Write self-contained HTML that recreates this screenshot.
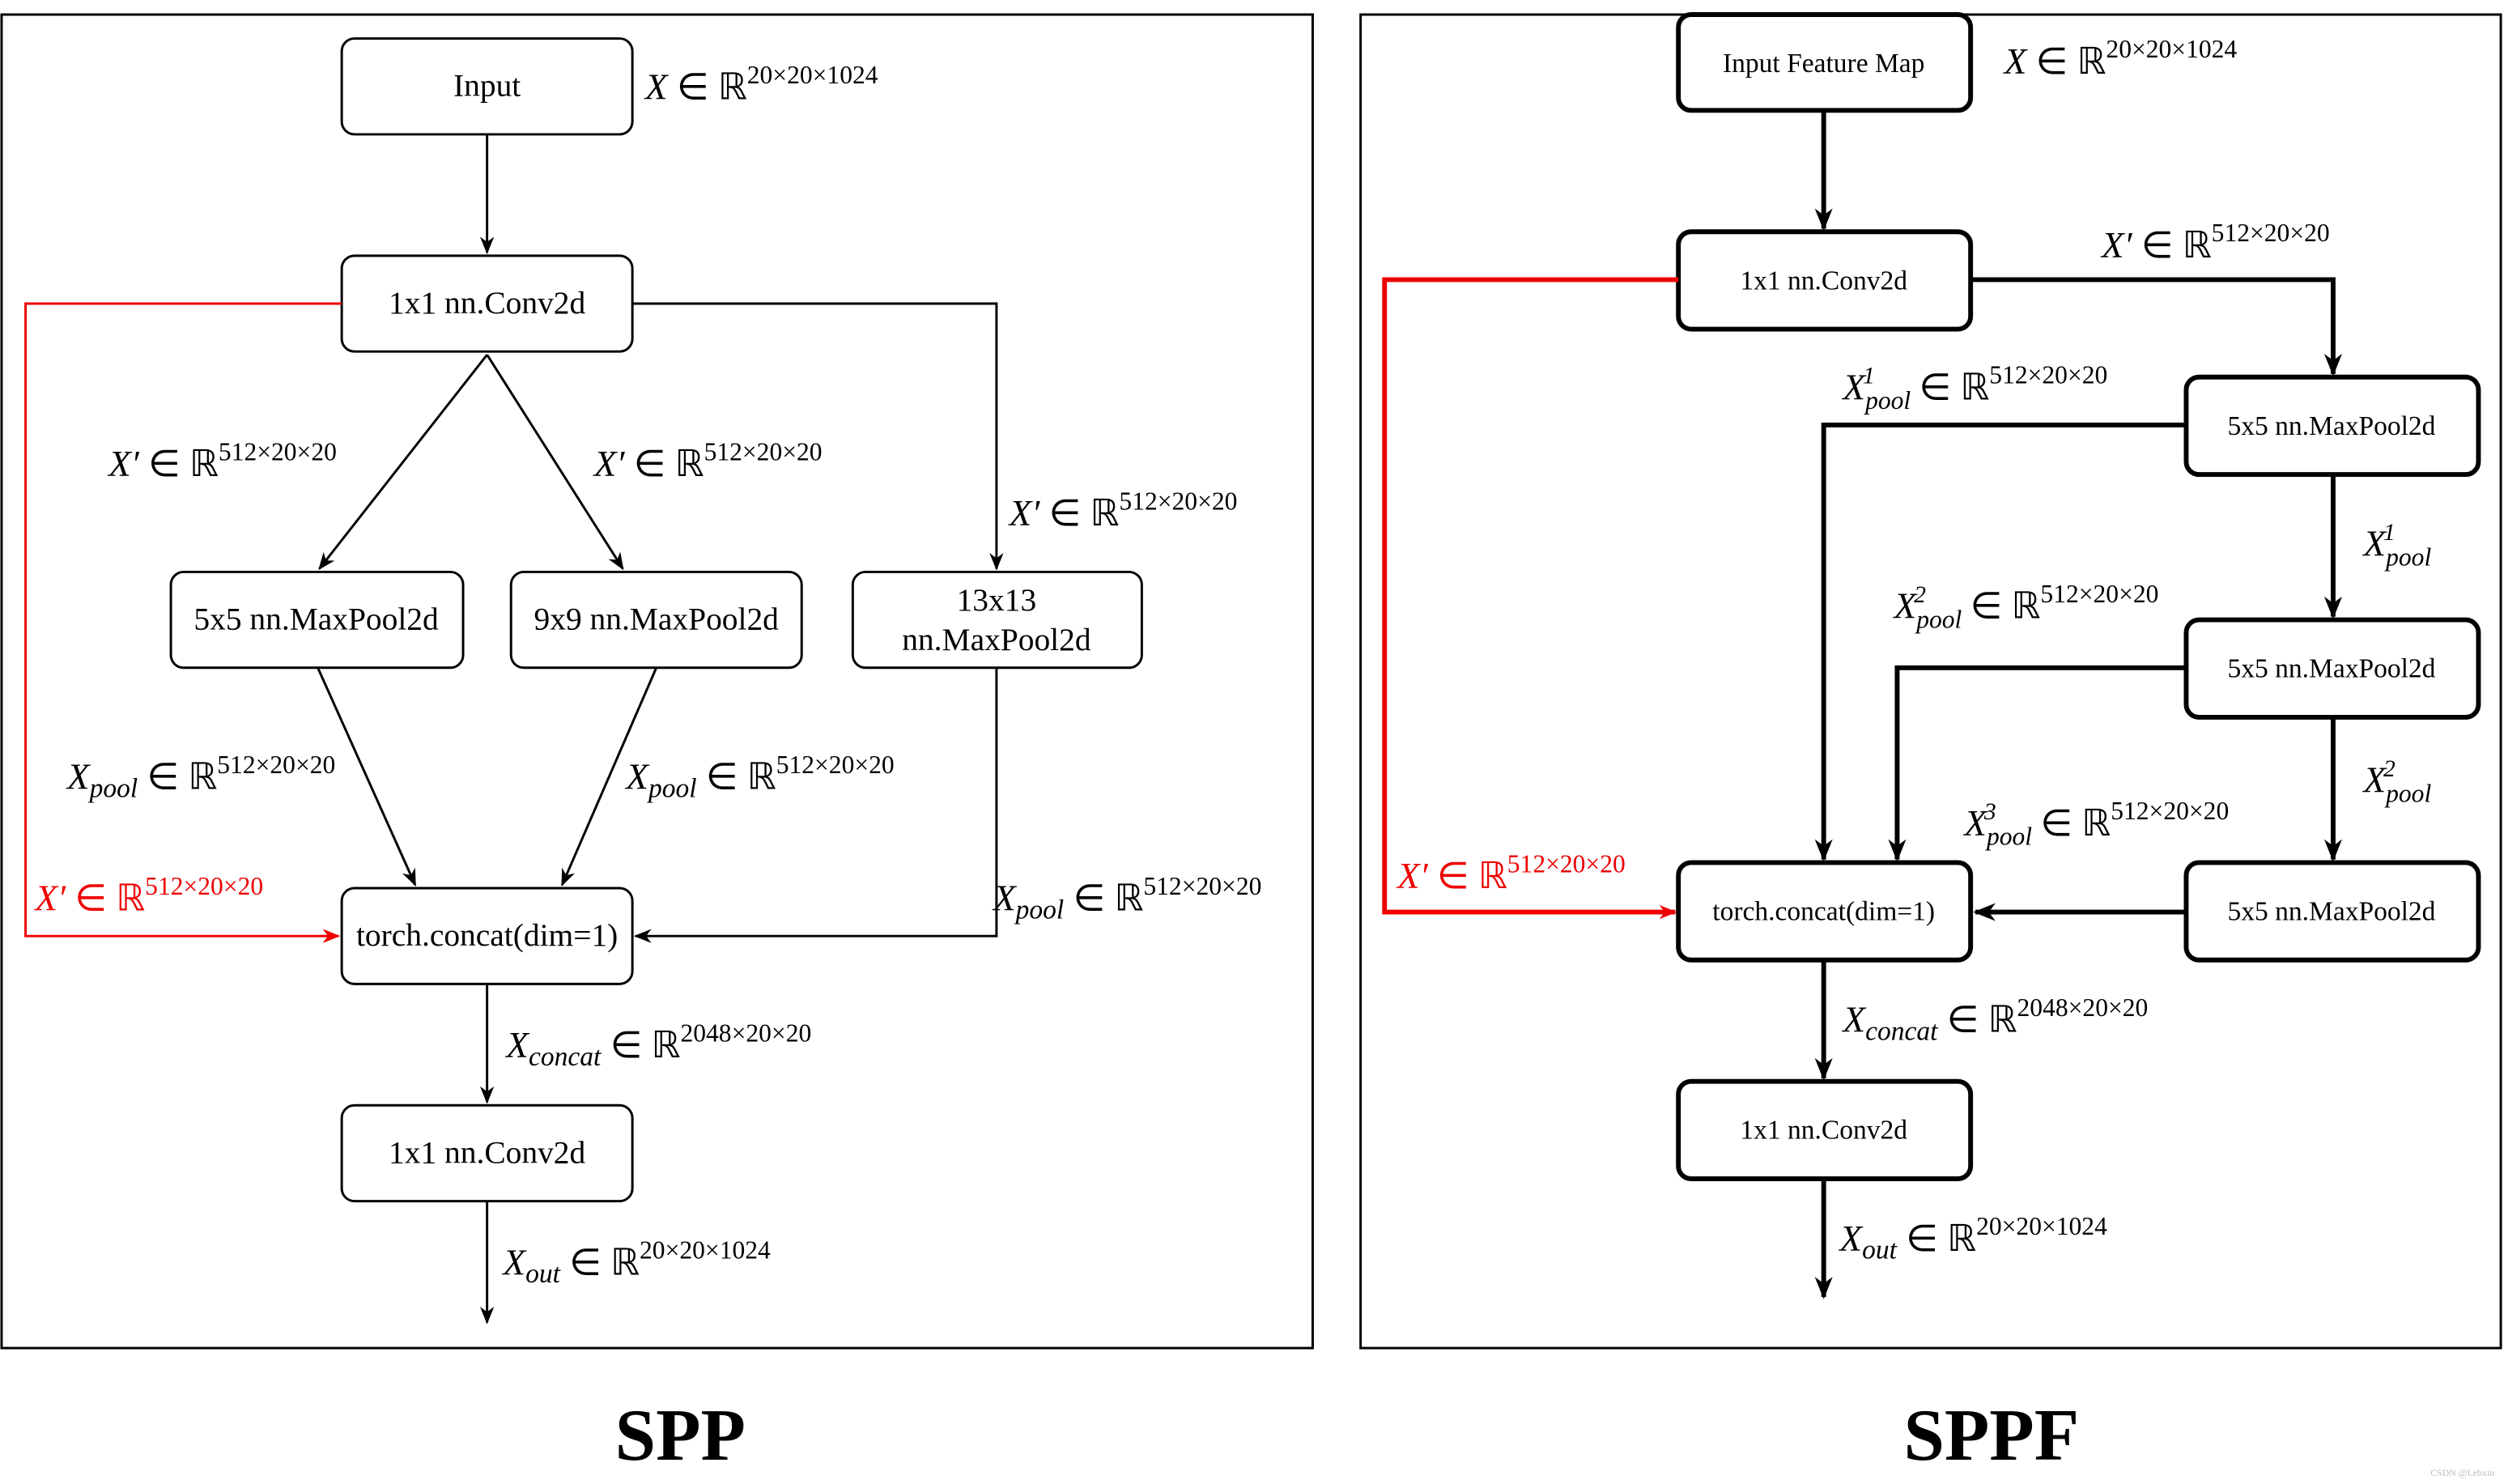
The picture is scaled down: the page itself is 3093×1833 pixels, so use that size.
<!DOCTYPE html>
<html><head><meta charset="utf-8"><style>
html,body{margin:0;padding:0;background:#fff;}
svg{display:block}
text{font-family:"Liberation Serif",serif;}
.b{font-size:20px;text-anchor:middle;}
.r{font-size:17px;text-anchor:middle;}
.m{font-size:23px;}
.s{font-size:16px;}
</style></head><body>
<svg width="3093" height="1833" viewBox="0 0 1568 929" xmlns="http://www.w3.org/2000/svg">
<defs>
<marker id="a" viewBox="0 0 10 10" refX="9" refY="5" markerWidth="11" markerHeight="11" orient="auto" markerUnits="userSpaceOnUse"><path d="M0,1 L10,5 L0,9 L3,5z" fill="#000"/></marker>
<marker id="ar" viewBox="0 0 10 10" refX="9" refY="5" markerWidth="11" markerHeight="11" orient="auto" markerUnits="userSpaceOnUse"><path d="M0,1 L10,5 L0,9 L3,5z" fill="#e00"/></marker>
<marker id="a2" viewBox="0 0 10 10" refX="9" refY="5" markerWidth="14" markerHeight="14" orient="auto" markerUnits="userSpaceOnUse"><path d="M0,1 L10,5 L0,9 L3,5z" fill="#000"/></marker>
</defs>
<rect x="1" y="9" width="821" height="835" fill="none" stroke="#000" stroke-width="1.5"/>
<rect x="852" y="9" width="714" height="835" fill="none" stroke="#000" stroke-width="1.5"/>
<text x="426" y="914" font-size="46" font-weight="bold" text-anchor="middle">SPP</text>
<text x="1247" y="914" font-size="46" font-weight="bold" text-anchor="middle">SPPF</text>

<g fill="#fff" stroke="#000" stroke-width="1.5">
<rect x="214" y="24" width="182" height="60" rx="8"/>
<rect x="214" y="160" width="182" height="60" rx="8"/>
<rect x="107" y="358" width="183" height="60" rx="8"/>
<rect x="320" y="358" width="182" height="60" rx="8"/>
<rect x="534" y="358" width="181" height="60" rx="8"/>
<rect x="214" y="556" width="182" height="60" rx="8"/>
<rect x="214" y="692" width="182" height="60" rx="8"/>
</g>
<text class="b" x="305" y="60">Input</text>
<text class="b" x="305" y="196">1x1 nn.Conv2d</text>
<text class="b" x="198" y="394">5x5 nn.MaxPool2d</text>
<text class="b" x="411" y="394">9x9 nn.MaxPool2d</text>
<text class="b" x="624" y="382">13x13</text>
<text class="b" x="624" y="407">nn.MaxPool2d</text>
<text class="b" x="305" y="592">torch.concat(dim=1)</text>
<text class="b" x="305" y="728">1x1 nn.Conv2d</text>
<g stroke="#000" stroke-width="1.5" fill="none" marker-end="url(#a)">
<line x1="305" y1="84" x2="305" y2="158"/>
<line x1="305" y1="222" x2="200" y2="356"/>
<line x1="305" y1="222" x2="390" y2="356"/>
<polyline points="396,190 624,190 624,356"/>
<line x1="199" y1="418" x2="260" y2="554"/>
<line x1="411" y1="418" x2="352" y2="554"/>
<polyline points="624,418 624,586 398,586"/>
<line x1="305" y1="616" x2="305" y2="690"/>
<line x1="305" y1="752" x2="305" y2="828"/>
</g>
<polyline points="214,190 16,190 16,586 212,586" fill="none" stroke="#e00" stroke-width="1.5" marker-end="url(#ar)"/>
<g class="m">
<text x="404" y="62"><tspan font-style="italic">X</tspan> ∈ ℝ<tspan class="s" dy="-10">20×20×1024</tspan></text>
<text x="68" y="298"><tspan font-style="italic">X′</tspan> ∈ ℝ<tspan class="s" dy="-10">512×20×20</tspan></text>
<text x="372" y="298"><tspan font-style="italic">X′</tspan> ∈ ℝ<tspan class="s" dy="-10">512×20×20</tspan></text>
<text x="632" y="329"><tspan font-style="italic">X′</tspan> ∈ ℝ<tspan class="s" dy="-10">512×20×20</tspan></text>
<text x="42" y="494"><tspan font-style="italic">X<tspan font-size="17" dy="5">pool</tspan></tspan><tspan dy="-5"> ∈ ℝ</tspan><tspan class="s" dy="-10">512×20×20</tspan></text>
<text x="392" y="494"><tspan font-style="italic">X<tspan font-size="17" dy="5">pool</tspan></tspan><tspan dy="-5"> ∈ ℝ</tspan><tspan class="s" dy="-10">512×20×20</tspan></text>
<text x="622" y="570"><tspan font-style="italic">X<tspan font-size="17" dy="5">pool</tspan></tspan><tspan dy="-5"> ∈ ℝ</tspan><tspan class="s" dy="-10">512×20×20</tspan></text>
<text x="22" y="570" fill="#e00"><tspan font-style="italic">X′</tspan> ∈ ℝ<tspan class="s" dy="-10">512×20×20</tspan></text>
<text x="317" y="662"><tspan font-style="italic">X<tspan font-size="17" dy="5">concat</tspan></tspan><tspan dy="-5"> ∈ ℝ</tspan><tspan class="s" dy="-10">2048×20×20</tspan></text>
<text x="315" y="798"><tspan font-style="italic">X<tspan font-size="17" dy="5">out</tspan></tspan><tspan dy="-5"> ∈ ℝ</tspan><tspan class="s" dy="-10">20×20×1024</tspan></text>
</g>

<g fill="#fff" stroke="#000" stroke-width="3">
<rect x="1051" y="9" width="183" height="60" rx="8"/>
<rect x="1051" y="145" width="183" height="61" rx="8"/>
<rect x="1369" y="236" width="183" height="61" rx="8"/>
<rect x="1369" y="388" width="183" height="61" rx="8"/>
<rect x="1369" y="540" width="183" height="61" rx="8"/>
<rect x="1051" y="540" width="183" height="61" rx="8"/>
<rect x="1051" y="677" width="183" height="61" rx="8"/>
</g>
<text class="r" x="1142" y="45">Input Feature Map</text>
<text class="r" x="1142" y="181">1x1 nn.Conv2d</text>
<text class="r" x="1460" y="272">5x5 nn.MaxPool2d</text>
<text class="r" x="1460" y="424">5x5 nn.MaxPool2d</text>
<text class="r" x="1460" y="576">5x5 nn.MaxPool2d</text>
<text class="r" x="1142" y="576">torch.concat(dim=1)</text>
<text class="r" x="1142" y="713">1x1 nn.Conv2d</text>
<g stroke="#000" stroke-width="3" fill="none" marker-end="url(#a2)">
<line x1="1142" y1="69" x2="1142" y2="143"/>
<polyline points="1234,175 1461,175 1461,234"/>
<line x1="1461" y1="297" x2="1461" y2="386"/>
<line x1="1461" y1="449" x2="1461" y2="538"/>
<line x1="1369" y1="571" x2="1237" y2="571"/>
<polyline points="1369,266 1142,266 1142,538"/>
<polyline points="1369,418 1188,418 1188,538"/>
<line x1="1142" y1="601" x2="1142" y2="675"/>
<line x1="1142" y1="738" x2="1142" y2="812"/>
</g>
<polyline points="1051,175 867,175 867,571 1049,571" fill="none" stroke="#e00" stroke-width="3" marker-end="url(#ar)"/>
<g class="m">
<text x="1255" y="46"><tspan font-style="italic">X</tspan> ∈ ℝ<tspan class="s" dy="-10">20×20×1024</tspan></text>
<text x="1316" y="161"><tspan font-style="italic">X′</tspan> ∈ ℝ<tspan class="s" dy="-10">512×20×20</tspan></text>
<text x="1154" y="250"><tspan font-style="italic">X<tspan font-size="16" dy="6">pool</tspan><tspan font-size="15" dx="-30" dy="-16">1</tspan></tspan><tspan dx="22" dy="10"> ∈ ℝ</tspan><tspan class="s" dy="-10">512×20×20</tspan></text>
<text x="1480" y="348" font-style="italic">X<tspan font-size="16" dy="6">pool</tspan><tspan font-size="15" dx="-30" dy="-16">1</tspan></text>
<text x="1186" y="387"><tspan font-style="italic">X<tspan font-size="16" dy="6">pool</tspan><tspan font-size="15" dx="-30" dy="-16">2</tspan></tspan><tspan dx="22" dy="10"> ∈ ℝ</tspan><tspan class="s" dy="-10">512×20×20</tspan></text>
<text x="1480" y="496" font-style="italic">X<tspan font-size="16" dy="6">pool</tspan><tspan font-size="15" dx="-30" dy="-16">2</tspan></text>
<text x="1230" y="523"><tspan font-style="italic">X<tspan font-size="16" dy="6">pool</tspan><tspan font-size="15" dx="-30" dy="-16">3</tspan></tspan><tspan dx="22" dy="10"> ∈ ℝ</tspan><tspan class="s" dy="-10">512×20×20</tspan></text>
<text x="875" y="556" fill="#e00"><tspan font-style="italic">X′</tspan> ∈ ℝ<tspan class="s" dy="-10">512×20×20</tspan></text>
<text x="1154" y="646"><tspan font-style="italic">X<tspan font-size="17" dy="5">concat</tspan></tspan><tspan dy="-5"> ∈ ℝ</tspan><tspan class="s" dy="-10">2048×20×20</tspan></text>
<text x="1152" y="783"><tspan font-style="italic">X<tspan font-size="17" dy="5">out</tspan></tspan><tspan dy="-5"> ∈ ℝ</tspan><tspan class="s" dy="-10">20×20×1024</tspan></text>
</g>
<text x="1562" y="924" font-size="6" fill="#bbb" text-anchor="end">CSDN @Lebxin</text>
</svg>
</body></html>
